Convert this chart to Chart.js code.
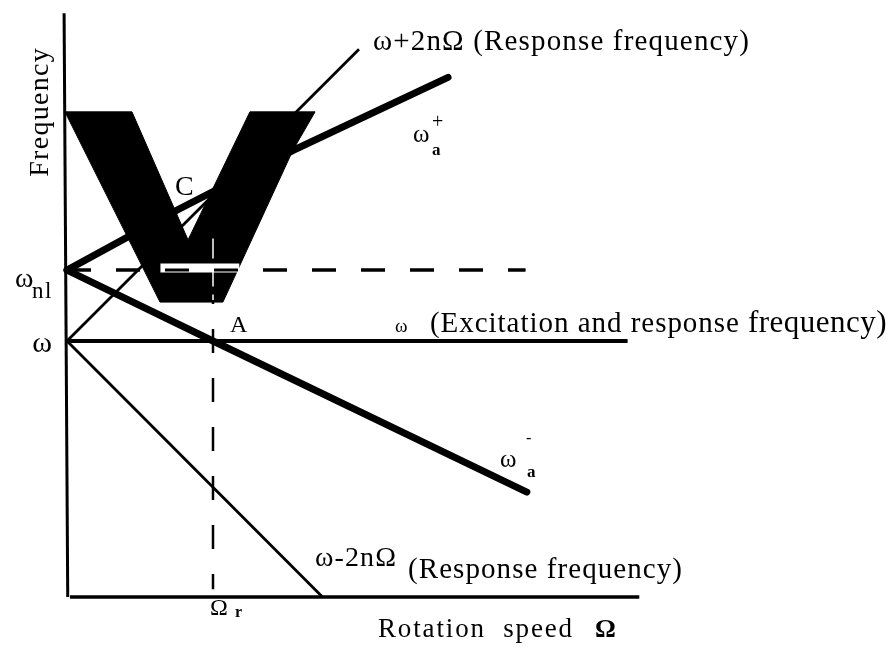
<!DOCTYPE html>
<html>
<head>
<meta charset="utf-8">
<script src="https://cdn.jsdelivr.net/npm/chart.js@4/dist/chart.umd.min.js"></script>
<style>
  html, body { margin: 0; padding: 0; background: #fff; }
  #wrap { width: 892px; height: 650px; position: relative; }
</style>
</head>
<body>
<div id="wrap"><canvas id="c"></canvas></div>
<script>
// Campbell-type diagram: rotation speed in units of Ω_r, frequency in units of ω.
const omegaR = 1.0;      // resonance rotation speed Ω_r
const omegaExc = 1.0;    // excitation frequency ω
const omegaNl = 1.277;   // natural frequency ω_nl

// ω_a+ (upper whirl branch)
const plusSpeed = [0, 0.75, 1.55, 2.61];
const plusFreq  = [1.277, 1.51, 1.745, 2.03];
// ω_a- (lower whirl branch)
const minusSpeed = [0, 1.0, 3.15];
const minusFreq  = [1.277, 1.0, 0.41];
// ω + 2nΩ response
const sumSpeed = [0, 2.0];
const sumFreq  = [1.0, 2.14];
// ω - 2nΩ response
const diffSpeed = [0, 1.75];
const diffFreq  = [1.0, 0.0];
// ω excitation line extent
const excSpeed = [0, 3.84];
// axes extents
const axisSpeedMax = 3.92;
const axisFreqMax = 2.28;
// reference dashes
const nlDashSpeed = [0, 3.14];
const rDashFreq = [1.43, 0.03];
// large V mark
const vSpeed = [-0.014, 0.637, 1.068, 1.548, 1.699, 1.253, 0.829, 0.445, -0.014];
const vFreq  = [1.895, 1.152, 1.152, 1.746, 1.895, 1.895, 1.395, 1.895, 1.895];
const vBandSpeed = [0.64, 1.18];
const vSlitFreq = [1.40, 1.16];

function series(xs, ys, opts) {
  return Object.assign({
    type: 'line',
    data: xs.map((v, i) => ({ x: v, y: ys[i] })),
    borderColor: '#000',
    backgroundColor: '#000',
    pointRadius: 0,
    fill: false,
    clip: false,
    tension: 0,
    borderCapStyle: 'butt',
    borderJoinStyle: 'round'
  }, opts);
}

const SERIF = '"Liberation Serif", "DejaVu Serif", serif';
const labels = [
  { t: 'Frequency', x: -0.130, y: 1.895, font: `28px ${SERIF}`, w: 130, align: 'center', rot: -Math.PI / 2 },
  { t: 'ω+2nΩ (Response frequency)', x: 2.096, y: 2.137, font: `29px ${SERIF}`, w: 377 },
  { t: 'ω', x: 2.247, y: 1.035, font: `19px ${SERIF}`, w: 18 },
  { t: '(Excitation and response', x: 2.486, y: 1.035, font: `29px ${SERIF}`, w: 310 },
  { t: 'frequency)', x: 4.664, y: 1.035, font: `31px ${SERIF}`, w: 139 },
  { t: 'ω-2nΩ', x: 1.699, y: 0.121, font: `28px ${SERIF}`, w: 82 },
  { t: '(Response frequency)', x: 2.336, y: 0.074, font: `29px ${SERIF}`, w: 275 },
  { t: 'Rotation  speed', x: 2.130, y: -0.156, font: `27px ${SERIF}`, w: 196 },
  { t: 'Ω', x: 3.616, y: -0.156, font: `bold 26px ${SERIF}` },
  { t: 'Ω', x: 0.979, y: -0.070, font: `24px ${SERIF}`, w: 20 },
  { t: 'r', x: 1.151, y: -0.078, font: `bold 16px ${SERIF}` },
  { t: 'A', x: 1.116, y: 1.035, font: `24px ${SERIF}` },
  { t: 'C', x: 0.740, y: 1.570, font: `28px ${SERIF}`, w: 25 },
  { t: 'ω', x: -0.171, y: 0.957, font: `30px ${SERIF}`, align: 'center' },
  { t: 'ω', x: -0.356, y: 1.211, font: `28px ${SERIF}` },
  { t: 'nl', x: -0.240, y: 1.168, font: `23px ${SERIF}`, w: 21 },
  { t: 'ω', x: 2.370, y: 1.777, font: `25px ${SERIF}` },
  { t: '+', x: 2.500, y: 1.832, font: `20px ${SERIF}` },
  { t: 'a', x: 2.500, y: 1.727, font: `bold 17px ${SERIF}` },
  { t: 'ω', x: 2.966, y: 0.508, font: `25px ${SERIF}` },
  { t: '-', x: 3.144, y: 0.602, font: `16px ${SERIF}` },
  { t: 'a', x: 3.151, y: 0.469, font: `bold 17px ${SERIF}` }
];

const labelPlugin = {
  id: 'diagramLabels',
  afterDatasetsDraw(chart) {
    const { ctx } = chart;
    const sx = chart.scales.x, sy = chart.scales.y;
    ctx.save();
    ctx.fillStyle = '#000';
    ctx.textBaseline = 'alphabetic';
    for (const l of labels) {
      ctx.font = l.font;
      ctx.letterSpacing = '0px';
      let sp = 0;
      if (l.w) {
        const m = ctx.measureText(l.t).width;
        sp = (l.w - m) / [...l.t].length;
      }
      ctx.letterSpacing = sp.toFixed(2) + 'px';
      ctx.textAlign = l.align || 'left';
      ctx.save();
      ctx.translate(sx.getPixelForValue(l.x), sy.getPixelForValue(l.y));
      if (l.rot) ctx.rotate(l.rot);
      ctx.fillText(l.t, 0, 0);
      ctx.restore();
    }
    ctx.restore();
  }
};

const dashed = [24, 25];
const datasets = [
  // axes
  series([-0.02, 0.005], [axisFreqMax, 0], { borderWidth: 3, order: 10 }),
  series([0.02, axisSpeedMax], [0, 0], { borderWidth: 3.5, order: 10 }),
  // excitation frequency ω
  series(excSpeed, [omegaExc, omegaExc], { borderWidth: 4, order: 9 }),
  // ω ± 2nΩ
  series(sumSpeed, sumFreq, { borderWidth: 2.8, order: 9 }),
  series(diffSpeed, diffFreq, { borderWidth: 2.8, order: 9 }),
  // whirl branches
  series(plusSpeed, plusFreq, { borderWidth: 7, borderCapStyle: 'round', order: 8 }),
  series(minusSpeed, minusFreq, { borderWidth: 7, borderCapStyle: 'round', order: 8 }),
  // reference dashes
  series(nlDashSpeed, [omegaNl, omegaNl], { borderWidth: 3, borderDash: dashed, order: 8 }),
  series([omegaR, omegaR], rDashFreq, { borderWidth: 2.5, borderDash: dashed, order: 8 }),
  // V mark
  series(vSpeed, vFreq, { borderWidth: 1, fill: 'shape', order: 5 }),
  series(vBandSpeed, [omegaNl + 0.008, omegaNl + 0.008], { borderColor: '#fff', borderWidth: 9, order: 4 }),
  series([omegaR, omegaR], vSlitFreq, { borderColor: '#fff', borderWidth: 1.5, borderDash: [20, 8], order: 4 }),
  series(nlDashSpeed, [omegaNl, omegaNl], { borderWidth: 3, borderDash: dashed, order: 3 })
];

new Chart(document.getElementById('c'), {
  type: 'line',
  data: { datasets },
  options: {
    responsive: true,
    maintainAspectRatio: false,
    animation: false,
    layout: { padding: 0 },
    plugins: { legend: { display: false }, tooltip: { enabled: false } },
    scales: {
      x: { type: 'linear', display: false, min: -0.459, max: 5.651 },
      y: { type: 'linear', display: false, min: -0.207, max: 2.332 }
    }
  },
  plugins: [labelPlugin]
});
</script>
</body>
</html>
